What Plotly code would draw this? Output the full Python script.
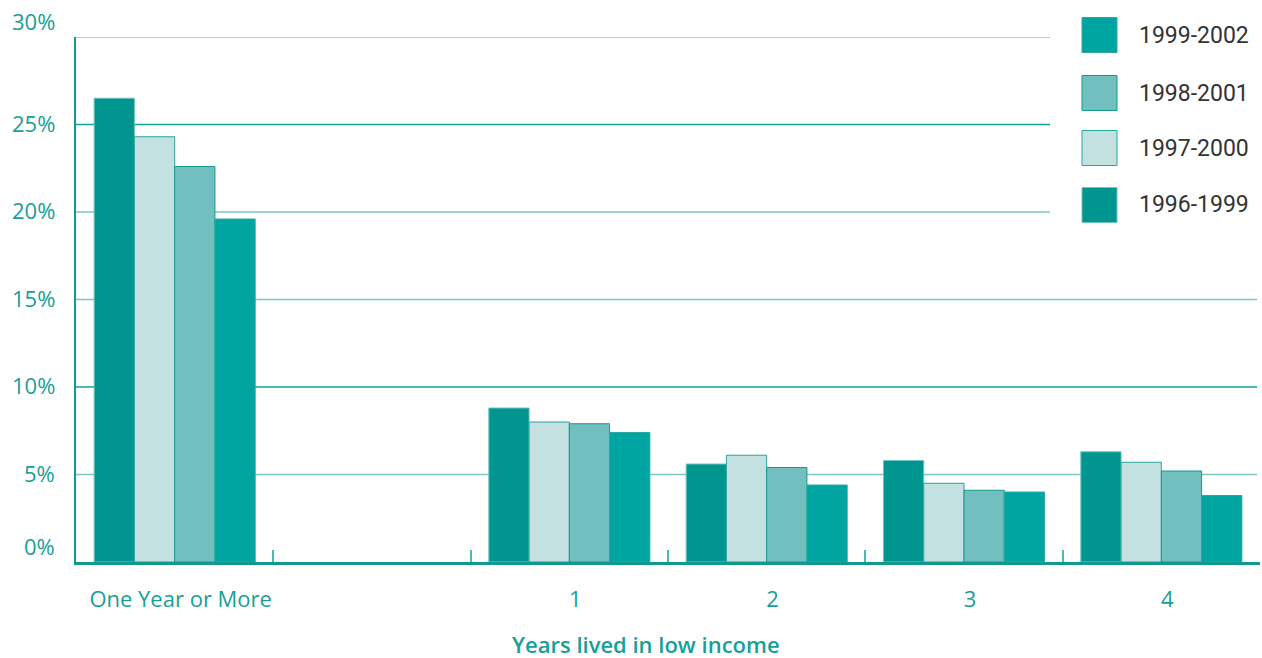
import plotly.graph_objects as go

# Share of people living in low income, by number of years, for four overlapping panels
categories = ["One Year or More", " ", "1", "2", "3", "4"]
series_names = ["1996-1999", "1997-2000", "1998-2001", "1999-2002"]
values_1996_1999 = [26.5, None, 8.8, 5.6, 5.8, 6.3]
values_1997_2000 = [24.3, None, 8.0, 6.1, 4.5, 5.7]
values_1998_2001 = [22.6, None, 7.9, 5.4, 4.1, 5.2]
values_1999_2002 = [19.6, None, 7.4, 4.4, 4.0, 3.8]
y_ticks = [0, 5, 10, 15, 20, 25, 30]
y_tick_labels = ["0%", "5%", "10%", "15%", "20%", "25%", "30%"]
x_title = "Years lived in low income"

series_values = [values_1996_1999, values_1997_2000, values_1998_2001, values_1999_2002]
fill_colors = ["#00958f", "#c3e1e0", "#72bfbf", "#00a5a2"]
edge_colors = ["#6fc4bf", "#26a59d", "#15998f", "#2aa9a4"]

TEAL = "#17a097"
W, H = 1262, 658
L, R, T, B = 76, 2, 37, 96
PW, PH = W - L - R, H - T - B


def px_x(x):
    return (x - L) / PW


def px_y(y):
    return (H - B - y) / PH


fig = go.Figure()
for name, vals, fc, ec in zip(series_names, series_values, fill_colors, edge_colors):
    fig.add_trace(go.Bar(
        x=categories, y=vals, name=name,
        marker=dict(color=fc, line=dict(color=ec, width=1)),
        showlegend=False,
    ))

shapes = []
# horizontal rules; the upper ones stop short of the key
grid_colors = {0: None, 5: "#7ac7c2", 10: "#10a39b", 15: "#7ac7c2",
               20: "#7ac7c2", 25: "#10a39b", 30: "#7ac7c2"}
for v in y_ticks:
    if grid_colors[v] is None:
        continue
    end = px_x(1050) if v >= 20 else px_x(1257)
    shapes.append(dict(type="line", xref="x domain", yref="y", x0=0, x1=end,
                       y0=v, y1=v, layer="below",
                       line=dict(color=grid_colors[v], width=1.5)))

annotations = []
for v, lab in zip(y_ticks, y_tick_labels):
    shift = 16 if v in (y_ticks[0], y_ticks[-1]) else 2
    annotations.append(dict(text=lab, xref="paper", yref="y", x=0, y=v,
                            xanchor="right", yanchor="middle", xshift=-19,
                            yshift=shift, showarrow=False,
                            font=dict(family="Open Sans", size=22, color=TEAL)))

# key, listed newest first
key_rows = [35, 93, 148, 205]
for row_y, name in zip(key_rows, series_names[::-1]):
    i = series_names.index(name)
    shapes.append(dict(type="rect", xref="paper", yref="paper",
                       x0=px_x(1082), x1=px_x(1117),
                       y0=px_y(row_y + 17.5), y1=px_y(row_y - 17.5),
                       fillcolor=fill_colors[i],
                       line=dict(color=edge_colors[i], width=1)))
    annotations.append(dict(text=name, xref="paper", yref="paper",
                            x=px_x(1137), y=px_y(row_y), xanchor="left",
                            yanchor="middle", showarrow=False,
                            font=dict(family="Roboto", size=23, color="#333333")))

annotations.append(dict(text=x_title, xref="paper", yref="paper",
                        x=px_x(646), y=px_y(644), xanchor="center",
                        yanchor="middle", showarrow=False,
                        font=dict(family="Open Sans", size=22, color=TEAL,
                                  weight=600)))

fig.update_layout(
    width=W, height=H,
    margin=dict(l=L, r=R, t=T, b=B, autoexpand=False),
    paper_bgcolor="white", plot_bgcolor="white",
    barmode="group", bargap=0.184, bargroupgap=0,
    shapes=shapes, annotations=annotations,
    showlegend=False,
    xaxis=dict(type="category", categoryorder="array", categoryarray=categories,
               range=[-0.5, len(categories) - 0.5], showgrid=False,
               showline=True, linecolor="#12998f", linewidth=3,
               ticks="inside", tickson="boundaries", ticklen=12,
               tickwidth=1.5, tickcolor="#4fb8b1",
               ticklabelstandoff=16, ticklabelshift=6,
               tickfont=dict(family="Open Sans", size=22, color=TEAL),
               fixedrange=True),
    yaxis=dict(range=[0, 30], showgrid=False, zeroline=False,
               showline=True, linecolor="#12998f", linewidth=2,
               showticklabels=False, ticks="", fixedrange=True),
)

fig.write_html("out.html")
